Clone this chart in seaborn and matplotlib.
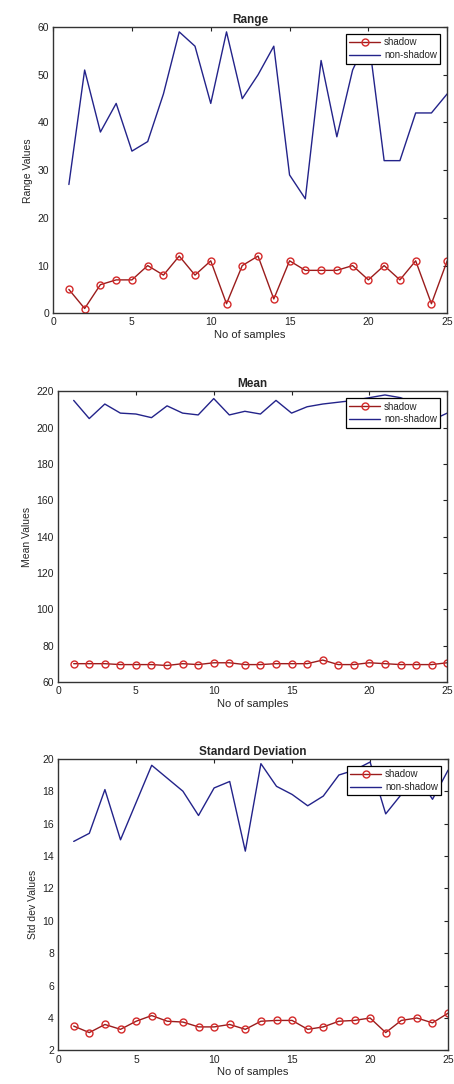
import numpy as np
import pandas as pd
import matplotlib
matplotlib.use("Agg")
import matplotlib.pyplot as plt
import seaborn as sns

samples = list(range(1, 26))

range_shadow = [5, 1, 6, 7, 7, 10, 8, 12, 8, 11, 2, 10, 12, 3, 11, 9, 9, 9, 10, 7, 10, 7, 11, 2, 11]
range_nonshadow = [27, 51, 38, 44, 34, 36, 46, 59, 56, 44, 59, 45, 50, 56, 29, 24, 53, 37, 51, 58, 32, 32, 42, 42, 46]

mean_shadow = [70, 70, 70, 69.5, 69.5, 69.5, 69, 70, 69.5, 70.5, 70.5, 69.5, 69.5, 70, 70, 70, 72,
               69.5, 69.5, 70.5, 70, 69.5, 69.5, 69.5, 70.5]
mean_nonshadow = [215, 205, 213, 208, 207.5, 205.5, 212, 208, 207, 216, 207, 209, 207.5, 215, 208,
                  211.5, 213, 214, 215, 216.5, 218, 216.5, 213, 204, 208]

std_shadow = [3.5, 3.1, 3.6, 3.3, 3.8, 4.15, 3.8, 3.75, 3.45, 3.45, 3.6, 3.3, 3.8, 3.85, 3.85, 3.3,
              3.45, 3.8, 3.85, 4.0, 3.1, 3.85, 4.0, 3.7, 4.3]
std_nonshadow = [14.9, 15.4, 18.1, 15.0, 17.3, 19.6, 18.8, 18.0, 16.5, 18.2, 18.6, 14.3, 19.7, 18.3,
                 17.8, 17.1, 17.7, 19.0, 19.3, 19.8, 16.6, 17.8, 19.0, 17.5, 19.3]

titles = ["Range", "Mean", "Standard Deviation"]
ylabels = ["Range Values", "Mean Values", "Std dev Values"]
xlabel = "No of samples"
series_names = ["shadow", "non-shadow"]
yticks_list = [np.arange(0, 61, 10), np.arange(60, 221, 20), np.arange(2, 21, 2)]
ylims = [(0, 60), (60, 220), (2, 20)]

sns.set_style("white")
plt.rcParams["font.family"] = ["Liberation Sans", "DejaVu Sans"]
plt.rcParams["xtick.direction"] = "in"
plt.rcParams["ytick.direction"] = "in"

fig = plt.figure(figsize=(4.54, 10.84), dpi=100)
positions = [
    [0.117, 0.711, 0.868, 0.264],
    [0.128, 0.371, 0.857, 0.268],
    [0.128, 0.031, 0.859, 0.269],
]

data_pairs = [(range_shadow, range_nonshadow), (mean_shadow, mean_nonshadow), (std_shadow, std_nonshadow)]

red_line = "#9a1c1c"
red_marker = "#d42a2a"
blue = "#23238a"

for i, (sh, ns) in enumerate(data_pairs):
    ax = fig.add_axes(positions[i])
    df_s = pd.DataFrame({"sample": samples, "value": sh})
    df_n = pd.DataFrame({"sample": samples, "value": ns})
    sns.lineplot(data=df_s, x="sample", y="value", ax=ax, color=red_line, marker="o",
                 markersize=5, markerfacecolor="none", markeredgecolor=red_marker,
                 markeredgewidth=1.0, linewidth=1.0, label=series_names[0])
    sns.lineplot(data=df_n, x="sample", y="value", ax=ax, color=blue,
                 linewidth=1.0, label=series_names[1])
    ax.set_xlim(0, 25)
    ax.set_ylim(*ylims[i])
    ax.set_xticks(np.arange(0, 26, 5))
    ax.set_yticks(yticks_list[i])
    ax.tick_params(axis="both", labelsize=7.5, colors="#222222", length=3, width=0.8,
                   top=True, right=True, direction="in", pad=3)
    for sp in ax.spines.values():
        sp.set_color("#333333")
        sp.set_linewidth(1.0)
    ax.set_title(titles[i], fontsize=8.5, fontweight="bold", pad=3)
    ax.set_xlabel(xlabel, fontsize=8, labelpad=2)
    ax.set_ylabel(ylabels[i], fontsize=7.5, labelpad=3)
    leg = ax.legend(loc="upper right", fontsize=7, frameon=True, fancybox=False,
                    borderpad=0.35, handlelength=3.2, handletextpad=0.4,
                    labelspacing=0.3, borderaxespad=0.7, framealpha=1)
    leg.get_frame().set_edgecolor("black")
    leg.get_frame().set_linewidth(0.9)

fig.savefig("out.png", dpi=100)
